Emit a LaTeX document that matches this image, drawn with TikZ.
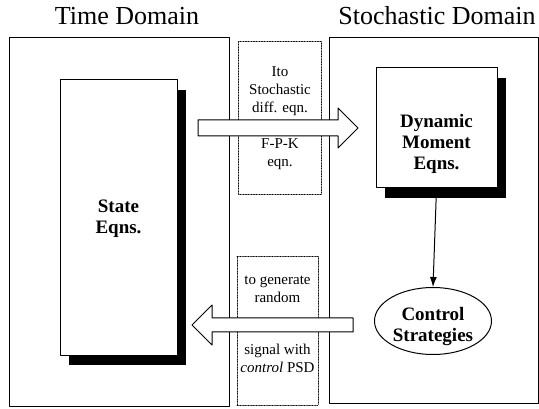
\documentclass[tikz,border=0pt]{standalone}
\usepackage{fontspec}
\setmainfont{Liberation Serif}
\usetikzlibrary{arrows.meta, positioning, shapes.geometric, shadows}

\begin{document}
\begin{tikzpicture}[x=1pt, y=-1pt, line join=round, line cap=round]
   % Styles
   \tikzset{
    panel/.style={line width=1pt},
    dotbox/.style={draw, densely dotted, line width=0.6pt, inner sep=0pt},
    eqnbox/.style={draw, fill=white, line width=1pt, inner sep=0pt,
      drop shadow={shadow xshift=9pt, shadow yshift=-10pt, fill=black, opacity=1}},
    bold/.style={font=\fontsize{19}{21}\selectfont\bfseries, align=center},
    small/.style={font=\fontsize{15}{18}\selectfont, align=center},
    title/.style={font=\fontsize{26}{30}\selectfont, anchor=base},
    blockarrow/.style={draw, fill=white, line width=1pt},
    flow/.style={-{Latex[length=10pt,width=7pt]}, line width=1pt}
   }
   \useasboundingbox (0,0) rectangle (539,409);
  % Titles
  \node[title] (ttime) at (127,25) {Time Domain};
  \node[title] (tstoch) at (437,25) {Stochastic Domain};
  % Panels
  \draw[panel] (9,38) rectangle (229,406);
  \draw[panel] (329,38) rectangle (538,403);
  % Dotted boxes in between
  \node[dotbox, minimum width=83pt, minimum height=153pt] (itobox) at (280,118) {};
  \node[dotbox, minimum width=81pt, minimum height=149pt] (sigbox) at (277.5,330.5) {};
  \node[small] (ito) at (280,91) {Ito\\Stochastic\\diff. eqn.};
  \node[small] (fpk) at (280,154) {F-P-K\\eqn.};
  \node[small] (gen) at (277.5,289) {to generate\\random};
  \node[small] (sig) at (277.5,358) {signal with\\\textit{control} PSD};
  % Boxes
  \node[eqnbox, minimum width=117pt, minimum height=275pt] (state) at (118.5,217.5) {};
  \node[bold] (statetxt) at (118.5,219) {State\\Eqns.};
  \node[eqnbox, minimum width=121pt, minimum height=120pt] (dyn) at (436.5,128) {};
  \node[bold] (dyntxt) at (436.5,144) {Dynamic\\Moment\\Eqns.};
  \node[draw, ellipse, line width=1pt, minimum width=117pt, minimum height=67pt,
    inner sep=0pt] (ctrl) at (433,321) {};
  \node[bold] (ctrltxt) at (433,327) {Control\\Strategies};
  % Block arrows
  \coordinate (fwdtail) at (198,128);
  \coordinate (fwdtip) at (358,128);
  \coordinate (bwdtail) at (353,325);
  \coordinate (bwdtip) at (192,325);
  \draw[blockarrow] (fwdtail) ++(0,-8) -- ++(140,0) -- ++(0,-12) -- (fwdtip)
    -- ++(-20,20) -- ++(0,-12) -- ++(-140,0) -- cycle;
  \draw[blockarrow] (bwdtail) ++(0,-7) -- ++(-141,0) -- ++(0,-13) -- (bwdtip)
    -- ++(20,20) -- ++(0,-13) -- ++(141,0) -- cycle;
  % Edge
  \draw[flow] (dyn.south) -- (ctrl.north);
\end{tikzpicture}
\end{document}
